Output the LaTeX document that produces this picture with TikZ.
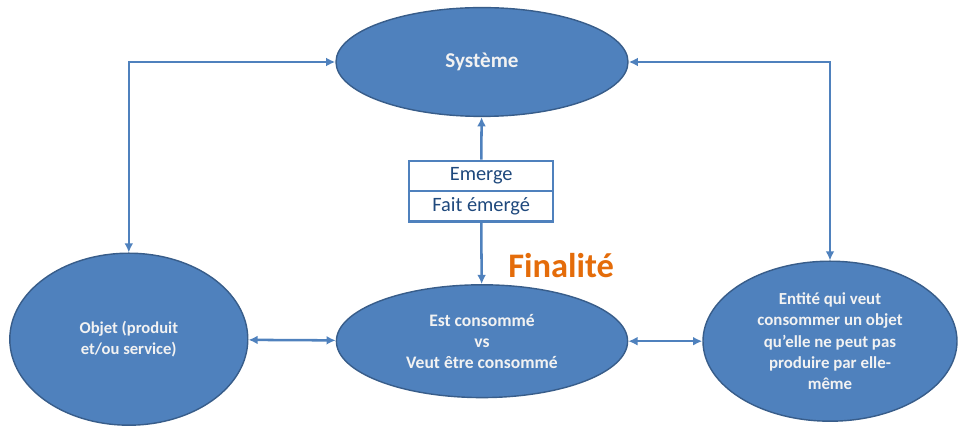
\documentclass[tikz,border=0pt]{standalone}
\usepackage{fontspec}
\setmainfont{Carlito}
\usetikzlibrary{arrows.meta,positioning,shapes.geometric}
\definecolor{ovalblue}{HTML}{4F81BD}
\definecolor{ovalline}{HTML}{385D8A}
\definecolor{ovaltext}{HTML}{F2F2F2}
\definecolor{boxtext}{HTML}{1F497D}
\definecolor{finorange}{HTML}{E46C0A}
\tikzset{
    oval/.style={ellipse, draw=ovalline, line width=1pt, fill=ovalblue, text=ovaltext,
        font=\bfseries\fontsize{11.5}{15}\selectfont, align=center, inner sep=0mm},
    stepbox/.style={rectangle, draw=ovalblue, line width=1.6pt, fill=white, text=boxtext,
        font=\fontsize{14.5}{16}\selectfont, minimum width=3.6cm, minimum height=0.76cm, inner sep=0mm},
    link/.style={draw=ovalblue, line width=1.8pt, {Latex[length=2.3mm,width=2.2mm]}-{Latex[length=2.3mm,width=2.2mm]}},
    uplink/.style={draw=ovalblue, line width=1.8pt, -{Latex[length=2.3mm,width=2.2mm]}}
}

\begin{document}
\begin{tikzpicture}
    \useasboundingbox (0cm, 0cm) rectangle (23.95cm, 10.65cm);

    \node (sys) [oval, minimum width=7.3cm, minimum height=2.72cm,
        font=\bfseries\fontsize{15}{18}\selectfont] at (12.05cm, 9.1cm) {Système};
    \node (conso) [oval, minimum width=7.28cm, minimum height=2.82cm,
        font=\bfseries\fontsize{12.5}{15}\selectfont] at (12.05cm, 2.12cm)
        {Est consommé\\vs\\Veut être consommé};
    \node (obj) [oval, minimum width=5.95cm, minimum height=4.3cm,
        font=\bfseries\fontsize{11.8}{15.5}\selectfont] at (3.22cm, 2.17cm)
        {Objet (produit\\et/ou service)};
    \node (ent) [oval, minimum width=6.35cm, minimum height=4.0cm,
        font=\bfseries\fontsize{12}{15}\selectfont] at (20.75cm, 2.12cm)
        {Entité qui veut\\consommer un objet\\qu’elle ne peut pas\\produire par elle-\\même};

    \node (emerge) [stepbox] at (12.03cm, 6.25cm) {Emerge};
    \node (fait) [stepbox, below=-1.6pt of emerge] {Fait émergé};

    \node (fin) [text=finorange, font=\bfseries\fontsize{24.5}{28}\selectfont] at (14.03cm, 4.0cm) {Finalité};

    \draw [uplink] (emerge) -- (sys);
    \draw [uplink] (fait) -- (conso);

    \draw [link] (sys) -| (obj);
    \draw [link] (sys) -| (ent);

    \draw [link] (obj) -- (conso);
    \draw [link] (conso) -- (ent);
\end{tikzpicture}
\end{document}
